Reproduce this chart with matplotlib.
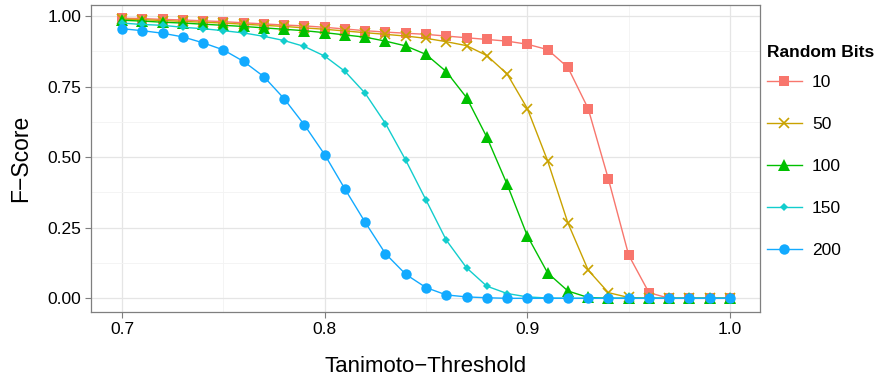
import numpy as np
import matplotlib.pyplot as plt

# F-Score against Tanimoto threshold for several numbers of random bits
thresholds = np.round(np.arange(0.70, 1.0001, 0.01), 2)

bits10 = [0.992, 0.991, 0.988, 0.986, 0.983, 0.980, 0.976, 0.972, 0.968, 0.965,
          0.960, 0.954, 0.948, 0.943, 0.939, 0.935, 0.929, 0.923, 0.917, 0.911,
          0.900, 0.881, 0.818, 0.672, 0.422, 0.153, 0.020, 0.0, 0.0, 0.0, 0.0]
bits50 = [0.989, 0.987, 0.984, 0.981, 0.978, 0.975, 0.971, 0.967, 0.963, 0.958,
          0.953, 0.947, 0.941, 0.935, 0.929, 0.921, 0.909, 0.895, 0.860, 0.795,
          0.672, 0.487, 0.267, 0.100, 0.020, 0.003, 0.0, 0.0, 0.0, 0.0, 0.0]
bits100 = [0.985, 0.982, 0.978, 0.975, 0.971, 0.967, 0.963, 0.958, 0.953, 0.948,
           0.941, 0.933, 0.925, 0.911, 0.894, 0.864, 0.803, 0.711, 0.571, 0.404,
           0.221, 0.090, 0.026, 0.003, 0.0, 0.0, 0.0, 0.0, 0.0, 0.0, 0.0]
bits150 = [0.975, 0.970, 0.967, 0.960, 0.955, 0.948, 0.940, 0.928, 0.913, 0.892,
           0.858, 0.804, 0.726, 0.619, 0.489, 0.348, 0.206, 0.108, 0.043, 0.017,
           0.005, 0.001, 0.0, 0.0, 0.0, 0.0, 0.0, 0.0, 0.0, 0.0, 0.0]
bits200 = [0.955, 0.948, 0.939, 0.926, 0.905, 0.880, 0.839, 0.785, 0.707, 0.614,
           0.509, 0.387, 0.269, 0.158, 0.085, 0.038, 0.012, 0.005, 0.002, 0.0,
           0.0, 0.0, 0.0, 0.0, 0.0, 0.0, 0.0, 0.0, 0.0, 0.0, 0.0]

labels = ['10', '50', '100', '150', '200']
series = [bits10, bits50, bits100, bits150, bits200]
colors = ['#F8766D', '#C9A200', '#00C000', '#12CDCD', '#12AAFF']
markers = ['s', 'x', '^', 'D', 'o']
msizes = [7, 7, 8, 4.5, 7.5]

plt.rcParams['font.family'] = ['Liberation Sans', 'DejaVu Sans']

fig = plt.figure(figsize=(8.77, 3.76), dpi=100)
ax = fig.add_axes([0.1038, 0.1702, 0.7628, 0.8165])

for vals, lab, col, mk, ms in zip(series, labels, colors, markers, msizes):
    ax.plot(thresholds, vals, color=col, marker=mk, markersize=ms, lw=1.0,
            markeredgewidth=1.2 if mk == 'x' else 0, label=lab)

ax.set_xlim(0.6847, 1.0148)
ax.set_ylim(-0.0485, 1.039)
ax.set_xticks([0.7, 0.8, 0.9, 1.0])
ax.set_xticklabels(['0.7', '0.8', '0.9', '1.0'])
ax.set_yticks([0.0, 0.25, 0.5, 0.75, 1.0])
ax.set_yticklabels(['0.00', '0.25', '0.50', '0.75', '1.00'])
ax.set_xticks([0.75, 0.85, 0.95], minor=True)
ax.set_yticks([0.125, 0.375, 0.625, 0.875], minor=True)

ax.grid(True, which='major', color='#E5E5E5', lw=0.9)
ax.grid(True, which='minor', color='#F3F3F3', lw=0.6)
ax.set_axisbelow(True)
ax.tick_params(which='minor', length=0)
ax.tick_params(which='major', length=4, color='#7F7F7F', labelsize=12.5,
               labelcolor='black', pad=3)
for sp in ax.spines.values():
    sp.set_color('#7F7F7F')
    sp.set_linewidth(0.9)

ax.set_xlabel('Tanimoto\u2212Threshold', fontsize=16, labelpad=14)
ax.set_ylabel('F\u2212Score', fontsize=16.5, labelpad=11)

leg = ax.legend(title='Random Bits', loc='upper left', bbox_to_anchor=(0.9895, 0.915),
                frameon=False, fontsize=12.5, labelspacing=1.55,
                handlelength=2.0, handletextpad=0.6, borderaxespad=0.4)
leg.get_title().set_fontweight('bold')
leg.get_title().set_fontsize(12.5)
leg._legend_box.align = 'left'
leg._legend_box.sep = 10.5  # tighter gap between title and first key

fig.savefig('out.png', dpi=100)
